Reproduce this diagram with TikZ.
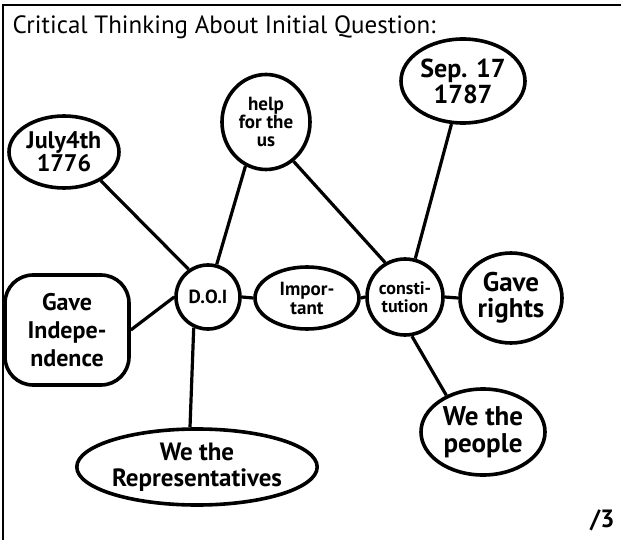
\documentclass[tikz,border=0pt]{standalone}
\usepackage{fontspec}
\setmainfont{PT Sans}
\usetikzlibrary{shapes.geometric}
\begin{document}
\begin{tikzpicture}[x=1pt,y=-1pt,
  bub/.style={draw, line width=3.6pt, ellipse, inner sep=0pt, align=center},
  box/.style={draw, line width=3.6pt, rounded corners=28pt, inner sep=0pt, align=center},
  link/.style={line width=3.2pt},
  frame/.style={line width=2pt}]
\useasboundingbox (0,0) rectangle (621,540);
\fill[white] (0,0) rectangle (621,540);
\coordinate (tl) at (3,5);
\coordinate (tr) at (621,5);
\coordinate (bl) at (3,540);
\draw[frame] (tr) -- (tl) -- (bl);
\node[anchor=west, font=\fontsize{25}{26}\selectfont] (title) at (9,27) {Critical Thinking About Initial Question:};
\node[anchor=east, font=\bfseries\fontsize{25}{25}\selectfont] (score) at (618,520) {/3};

\node[bub, minimum width=110pt, minimum height=72pt, font=\bfseries\fontsize{24}{23}\selectfont] (july) at (64,152) {July4th\\1776};
\node[bub, minimum width=88pt, minimum height=95pt, font=\bfseries\fontsize{19}{18}\selectfont] (help) at (266,122) {help\\for the\\us};
\node[bub, minimum width=124pt, minimum height=84pt, font=\bfseries\fontsize{26}{26}\selectfont] (sep) at (463,81) {Sep. 17\\1787};
\node[bub, minimum width=64pt, minimum height=64pt, font=\bfseries\fontsize{19}{19}\selectfont] (doi) at (208,297) {D.O.I};
\node[bub, minimum width=104pt, minimum height=62pt, font=\bfseries\fontsize{19}{19}\selectfont] (imp) at (307,298) {Impor-\\tant};
\node[bub, minimum width=76pt, minimum height=76pt, font=\bfseries\fontsize{18}{18}\selectfont] (con) at (405,297) {consti-\\tution};
\node[bub, minimum width=102pt, minimum height=90pt, font=\bfseries\fontsize{27}{26}\selectfont] (rights) at (511,298) {Gave\\rights};
\node[box, minimum width=124pt, minimum height=110pt, font=\bfseries\fontsize{24}{28}\selectfont] (indep) at (67,330) {Gave\\Indepe-\\ndence};
\node[bub, minimum width=226pt, minimum height=76pt, font=\bfseries\fontsize{25}{26}\selectfont] (rep) at (197,467) {We the\\Representatives};
\node[bub, minimum width=124pt, minimum height=86pt, font=\bfseries\fontsize{27}{27}\selectfont] (people) at (483,432) {We the\\people};

\draw[link] (july.-38) -- (doi.125);
\draw[link] (help.-115) -- (doi.75);
\draw[link] (help.-55) -- (con.120);
\draw[link] (sep.-105) -- (con.75);
\draw[link] (doi.180) -- (indep.east);
\draw[link] (doi.0) -- (imp.180);
\draw[link] (imp.0) -- (con.180);
\draw[link] (con.0) -- (rights.180);
\draw[link] (doi.-115) -- (rep.100);
\draw[link] (con.-80) -- (people.135);
\end{tikzpicture}
\end{document}
